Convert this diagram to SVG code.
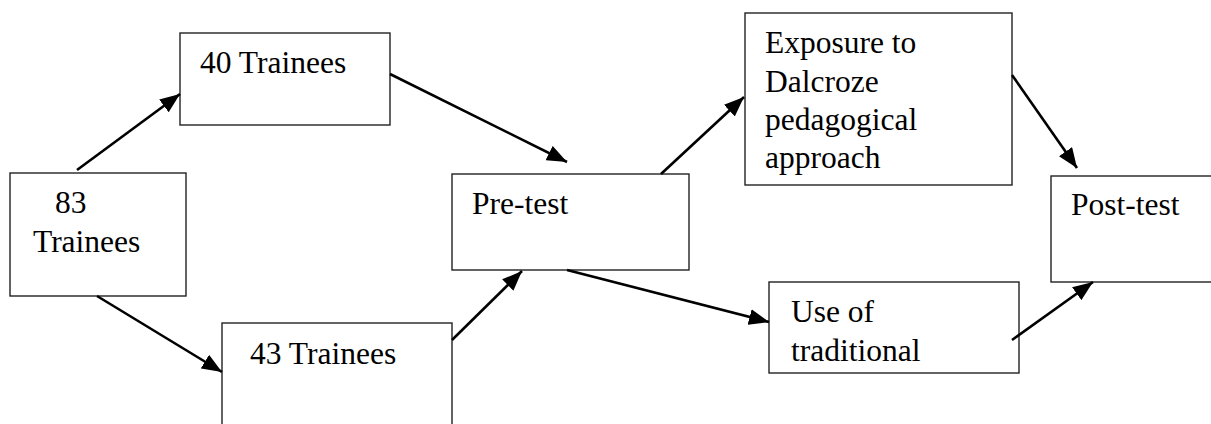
<svg xmlns="http://www.w3.org/2000/svg" width="1211" height="424" viewBox="0 0 1211 424">
<defs>
<style>
.box{fill:#fff;stroke:#222;stroke-width:1.4}
text{font-family:'Liberation Serif','Times New Roman',Tinos,Times,'DejaVu Serif',serif;font-size:31.5px;fill:#000}
.c{stroke:#000;stroke-width:2.6;fill:none}
</style>
<marker id="ah" markerUnits="userSpaceOnUse" markerWidth="20" markerHeight="16" viewBox="0 0 20 16" refX="20" refY="8" orient="auto">
<path d="M0,0 L20,8 L0,16 z" fill="#000"/>
</marker>
</defs>
<rect width="1211" height="424" fill="#fff"/>
<g font-family="Liberation Serif, serif" font-size="31.5">
<g id="n83">
<rect class="box" x="10" y="173" width="176" height="123"/>
<text x="55" y="213">83</text>
<text x="33" y="252">Trainees</text>
</g>
<g id="n40">
<rect class="box" x="180" y="33" width="210" height="92"/>
<text x="200" y="73">40 Trainees</text>
</g>
<g id="n43">
<rect class="box" x="222" y="323" width="230" height="110"/>
<text x="250" y="364">43 Trainees</text>
</g>
<g id="pretest">
<rect class="box" x="452" y="174" width="237" height="96"/>
<text x="472" y="214">Pre-test</text>
</g>
<g id="exposure">
<rect class="box" x="745" y="13" width="267" height="172"/>
<text x="765" y="53">Exposure to</text>
<text x="765" y="92">Dalcroze</text>
<text x="765" y="130">pedagogical</text>
<text x="765" y="168">approach</text>
</g>
<g id="traditional">
<rect class="box" x="769" y="282" width="250" height="91"/>
<text x="791" y="322">Use of</text>
<text x="791" y="361">traditional</text>
</g>
<g id="posttest">
<rect class="box" x="1051" y="176" width="170" height="106"/>
<text x="1071" y="215">Post-test</text>
</g>
</g>
<g id="connectors">
<line class="c" x1="77" y1="170" x2="180" y2="94" marker-end="url(#ah)"/>
<line class="c" x1="97" y1="296" x2="222" y2="372" marker-end="url(#ah)"/>
<line class="c" x1="390" y1="74" x2="567" y2="162" marker-end="url(#ah)"/>
<line class="c" x1="452" y1="340" x2="522" y2="271" marker-end="url(#ah)"/>
<line class="c" x1="661" y1="174" x2="744" y2="97" marker-end="url(#ah)"/>
<line class="c" x1="567" y1="270" x2="769" y2="322" marker-end="url(#ah)"/>
<line class="c" x1="1012" y1="75" x2="1077" y2="168" marker-end="url(#ah)"/>
<line class="c" x1="1012" y1="340" x2="1093" y2="282" marker-end="url(#ah)"/>
</g>
</svg>
